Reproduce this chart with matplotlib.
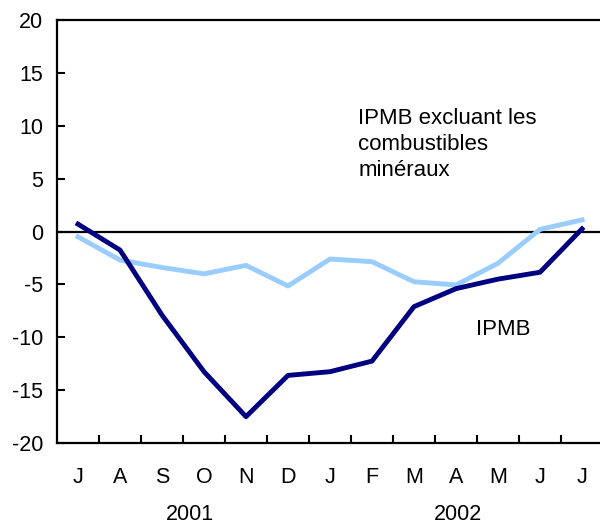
import matplotlib
matplotlib.use("Agg")
import matplotlib.pyplot as plt
import matplotlib.transforms as mtransforms

plt.rcParams['font.family'] = ['Liberation Sans', 'DejaVu Sans']
plt.rcParams['axes.unicode_minus'] = False

months = ["J", "A", "S", "O", "N", "D", "J", "F", "M", "A", "M", "J", "J"]
years = ["2001", "2002"]
ipmb = [0.7, -1.75, -7.9, -13.25, -17.5, -13.6, -13.25, -12.25, -7.1, -5.4, -4.5, -3.85, 0.25]
ipmb_excl = [-0.5, -2.7, -3.4, -4.0, -3.2, -5.15, -2.6, -2.85, -4.75, -5.05, -3.0, 0.2, 1.1]

x = [i + 0.5 for i in range(len(months))]

fig = plt.figure(figsize=(6, 5.25), dpi=100)
ax = fig.add_axes([0.095, 0.156, 0.91, 0.806])

ax.axhline(0, color="black", linewidth=1.6, zorder=1)
ax.plot(x, ipmb_excl, color="#99ccff", linewidth=3.5, zorder=2)
ax.plot(x, ipmb, color="#000080", linewidth=3.5, zorder=3)

ax.set_xlim(0, 13)
ax.set_ylim(-20, 20)
ax.set_yticks(range(-20, 21, 5))
ax.set_xticks(range(1, 13))
ax.set_xticklabels([])
ax.set_xticks(x, minor=True)
ax.set_xticklabels(months, minor=True)

fs = 15.5
ax.tick_params(axis="y", direction="in", length=6, width=1.5, labelsize=fs, pad=10)
ax.tick_params(axis="x", which="major", direction="in", length=6, width=1.5)
ax.tick_params(axis="x", which="minor", length=0, labelsize=fs, pad=17)

for s in ["left", "bottom", "top"]:
    ax.spines[s].set_linewidth(1.6)
ax.spines["right"].set_visible(False)

trans = mtransforms.blended_transform_factory(ax.transData, ax.transAxes)
ax.text(3.17, -0.168, years[0], transform=trans, ha="center", va="center", fontsize=fs)
ax.text(9.55, -0.168, years[1], transform=trans, ha="center", va="center", fontsize=fs)

ax.text(7.17, 8.2, "IPMB excluant les\ncombustibles\nminéraux", ha="left", va="center",
        fontsize=16, linespacing=1.3)
ax.text(10.62, -9.3, "IPMB", ha="center", va="center", fontsize=16)

fig.savefig("out.png", dpi=100)
